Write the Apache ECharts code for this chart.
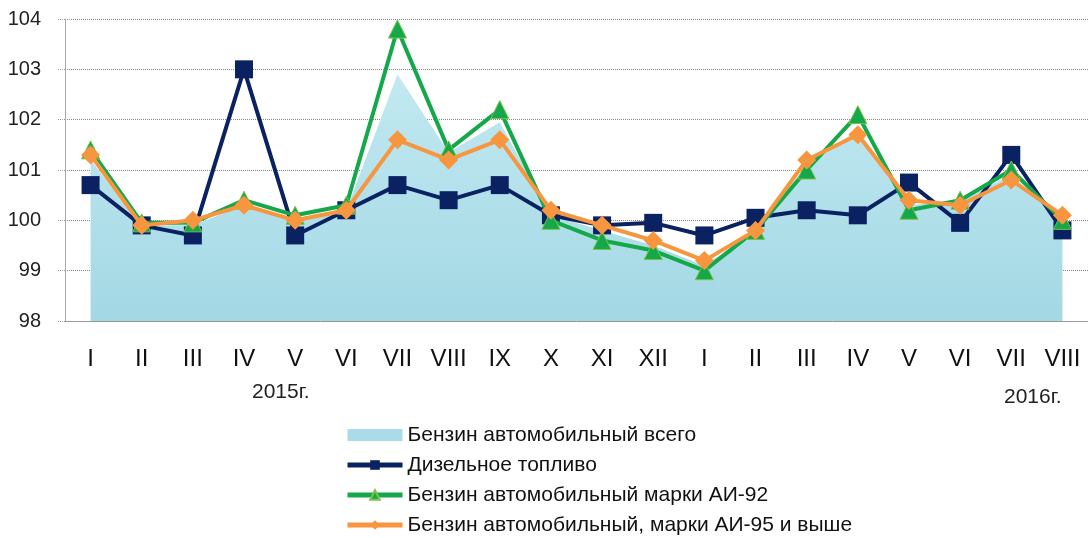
<!DOCTYPE html>
<html>
<head>
<meta charset="utf-8">
<script src="https://cdn.jsdelivr.net/npm/echarts@6/dist/echarts.min.js"></script>
<style>
  html, body { margin: 0; padding: 0; background: #fff; }
  #shape { width: 1088px; height: 538px; }
</style>
</head>
<body>
<div id="shape"></div>
<script>
// месяцы 2015-2016
var months = ['I', 'II', 'III', 'IV', 'V', 'VI', 'VII', 'VIII', 'IX', 'X', 'XI', 'XII',
  'I', 'II', 'III', 'IV', 'V', 'VI', 'VII', 'VIII'];
var benzinTotal = [101.2, 99.9, 99.9, 100.3, 100.0, 100.2, 102.9, 101.35, 101.95, 100.1, 99.8, 99.5,
  99.1, 99.8, 101.1, 101.8, 100.3, 100.4, 100.9, 100.0];
var diesel = [100.7, 99.9, 99.7, 103.0, 99.7, 100.2, 100.7, 100.4, 100.7, 100.1, 99.9, 99.95,
  99.7, 100.05, 100.2, 100.1, 100.75, 99.95, 101.3, 99.8];
var ai92 = [101.4, 99.95, 99.95, 100.4, 100.1, 100.3, 103.8, 101.4, 102.2, 100.0, 99.6, 99.4,
  99.0, 99.8, 101.0, 102.1, 100.2, 100.4, 101.0, 100.0];
var ai95 = [101.3, 99.9, 100.0, 100.3, 100.0, 100.2, 101.6, 101.2, 101.6, 100.2, 99.9, 99.6,
  99.2, 99.8, 101.2, 101.7, 100.4, 100.3, 100.8, 100.1];
var yearLabels = ['2015г.', '2016г.'];

var chart = echarts.init(document.getElementById('shape'));
chart.setOption({
  animation: false,
  textStyle: { fontFamily: 'Liberation Sans, Arial, sans-serif' },
  grid: { left: 65, top: 19, right: -3, height: 302 },
  legend: {
    orient: 'vertical',
    left: 345,
    top: 424,
    padding: 0,
    itemWidth: 55,
    itemHeight: 12,
    itemGap: 8,
    lineStyle: { width: 5 },
    textStyle: { fontSize: 21, color: '#111', lineHeight: 22 },
    data: [
      { name: 'Бензин автомобильный всего', icon: 'rect' },
      'Дизельное топливо',
      'Бензин автомобильный марки АИ-92',
      'Бензин автомобильный, марки АИ-95 и выше'
    ]
  },
  xAxis: {
    type: 'category',
    data: months,
    axisLine: { lineStyle: { color: '#999' } },
    axisTick: { length: 4, lineStyle: { color: '#999' } },
    axisLabel: { fontSize: 24, color: '#111', margin: 26 }
  },
  yAxis: {
    type: 'value',
    min: 98,
    max: 104,
    interval: 1,
    axisLine: { show: true, lineStyle: { color: '#aaa' } },
    axisTick: { show: true, inside: false, length: 8, lineStyle: { color: '#999', type: 'dotted' } },
    splitLine: { lineStyle: { color: '#888', type: 'dotted' } },
    axisLabel: { fontSize: 20, color: '#222', margin: 24 }
  },
  graphic: [
    { type: 'text', left: 252, top: 382, style: { text: yearLabels[0], fill: '#222', font: '21px Liberation Sans' } },
    { type: 'text', left: 1004, top: 387, style: { text: yearLabels[1], fill: '#222', font: '21px Liberation Sans' } }
  ],
  series: [
    {
      name: 'Бензин автомобильный всего',
      type: 'line',
      data: benzinTotal,
      symbol: 'none',
      itemStyle: { color: '#a9dce8' },
      lineStyle: { width: 0 },
      areaStyle: {
        opacity: 1,
        color: new echarts.graphic.LinearGradient(0, 0, 0, 1, [
          { offset: 0, color: '#c2e9f1' },
          { offset: 1, color: '#a3d8e4' }
        ])
      },
      z: 1
    },
    {
      name: 'Дизельное топливо',
      type: 'line',
      data: diesel,
      symbol: 'rect',
      symbolSize: 18,
      itemStyle: { color: '#0a2262' },
      lineStyle: { width: 4, color: '#0a2262' },
      z: 2
    },
    {
      name: 'Бензин автомобильный марки АИ-92',
      type: 'line',
      data: ai92,
      symbol: 'triangle',
      symbolSize: 18,
      itemStyle: { color: '#14a84a', borderColor: '#7cc04a', borderWidth: 1 },
      lineStyle: { width: 4, color: '#14a84a' },
      z: 3
    },
    {
      name: 'Бензин автомобильный, марки АИ-95 и выше',
      type: 'line',
      data: ai95,
      symbol: 'diamond',
      symbolSize: 19,
      itemStyle: { color: '#f7963e' },
      lineStyle: { width: 4, color: '#f7963e' },
      z: 4
    }
  ]
});
</script>
</body>
</html>
